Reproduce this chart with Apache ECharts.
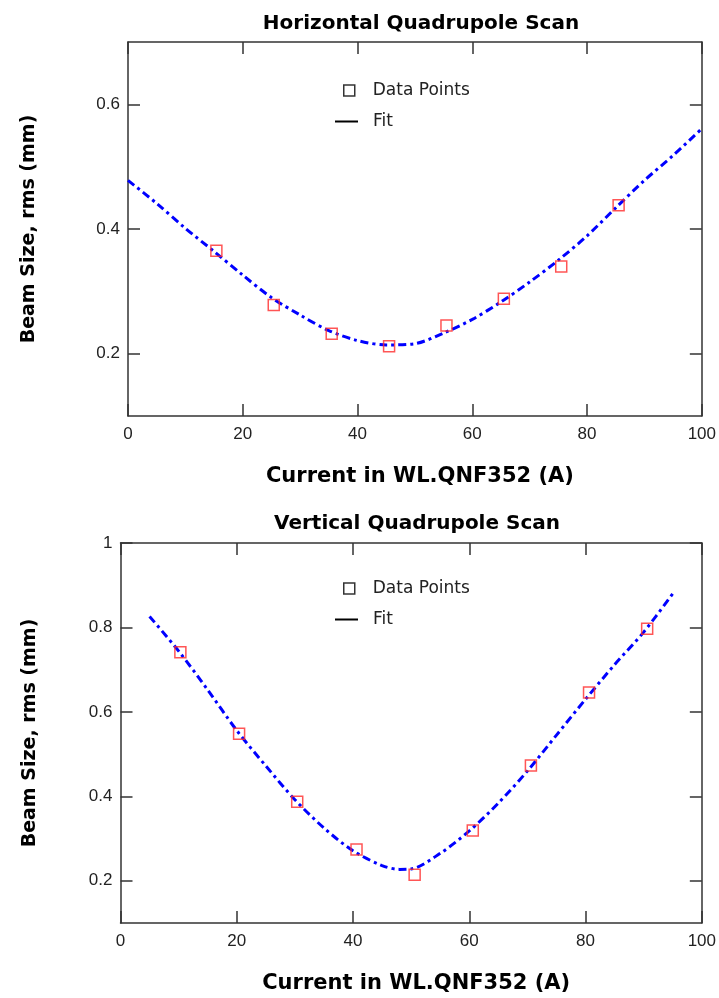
<!DOCTYPE html>
<html><head><meta charset="utf-8">
<script src="https://cdn.jsdelivr.net/npm/echarts@6/dist/echarts.min.js"></script>
<style>html,body{margin:0;padding:0;background:#fff}#c{width:719px;height:998px}</style>
</head><body><div id="c"></div>
<script>
const hTitle = 'Horizontal Quadrupole Scan';
const vTitle = 'Vertical Quadrupole Scan';
const xName = 'Current in WL.QNF352 (A)';
const yName = 'Beam Size, rms (mm)';
const legendNames = ['Data Points', 'Fit'];
const xTicks = [0, 20, 40, 60, 80, 100];
const hYTicks = [0.2, 0.4, 0.6];
const vYTicks = [0.2, 0.4, 0.6, 0.8, 1];

// Horizontal scan
const hDataX = [15.4, 25.4, 35.5, 45.5, 55.5, 65.5, 75.5, 85.5];
const hDataY = [0.365, 0.278, 0.232, 0.212, 0.245, 0.288, 0.340, 0.438];
const hFitX = [0, 5, 10, 15, 20, 25, 30, 35, 40, 45, 50, 55, 60, 65, 70, 75, 80, 85, 90, 95, 100];
const hFitY = [0.478, 0.441, 0.401, 0.364, 0.326, 0.290, 0.262, 0.237, 0.221, 0.214, 0.216, 0.233, 0.255, 0.283, 0.315, 0.350, 0.389, 0.434, 0.478, 0.518, 0.561];

// Vertical scan
const vDataX = [10.3, 20.4, 30.4, 40.6, 50.6, 60.6, 70.6, 80.6, 90.6];
const vDataY = [0.741, 0.548, 0.387, 0.274, 0.214, 0.319, 0.473, 0.646, 0.797];
const vFitX = [5, 10, 15, 20, 25, 30, 35, 40, 45, 48, 50, 55, 60, 65, 70, 75, 80, 85, 90, 95];
const vFitY = [0.826, 0.744, 0.652, 0.556, 0.472, 0.392, 0.325, 0.271, 0.236, 0.227, 0.228, 0.265, 0.318, 0.384, 0.460, 0.545, 0.630, 0.712, 0.789, 0.880];

const pair = (xs, ys) => xs.map((x, i) => [x, ys[i]]);
const titleFont = "'DejaVu Sans', sans-serif";
const tickFont = "'Liberation Sans', Arial, sans-serif";
const legendFont = "'DejaVu Sans', sans-serif";
const axisCol = '#333';

function xAx(grid, pos) {
  const bottom = pos === 'bottom';
  return {
    type: 'value', gridIndex: grid, position: pos, min: 0, max: 100, interval: 20,
    name: bottom ? xName : '', nameLocation: 'middle', nameGap: 50,
    nameTextStyle: {fontFamily: titleFont, fontWeight: 'bold', fontSize: 21, color: '#000', padding: [0, 0, 0, 10]},
    axisLine: {show: true, onZero: false, lineStyle: {color: axisCol, width: 1.5}},
    axisTick: {show: true, inside: true, length: 12, lineStyle: {color: axisCol, width: 1.5}},
    axisLabel: {show: bottom, margin: 10, fontFamily: tickFont, fontSize: 17, color: '#222'},
    splitLine: {show: false}
  };
}
function yAx(grid, pos, min, max, ticks) {
  const left = pos === 'left';
  return {
    type: 'value', gridIndex: grid, position: pos, min: min, max: max, interval: 0.1,
    name: left ? yName : '', nameLocation: 'middle', nameGap: left ? (grid === 0 ? 89 : 81) : 0, nameRotate: 90,
    nameTextStyle: {fontFamily: titleFont, fontWeight: 'bold', fontSize: 19, color: '#000'},
    axisLine: {show: true, onZero: false, lineStyle: {color: axisCol, width: 1.5}},
    axisTick: {show: true, inside: true, length: 12, customValues: ticks, lineStyle: {color: axisCol, width: 1.5}},
    axisLabel: {show: left, margin: 8, customValues: ticks, fontFamily: tickFont, fontSize: 17, color: '#222'},
    splitLine: {show: false}
  };
}
const fitStyle = {color: '#0000ff', width: 3, type: [8, 4, 3, 4], cap: 'butt'};
const ptStyle = {color: 'rgba(255,255,255,0)', borderColor: '#ff2a2a', borderWidth: 1.5};

function legends(top1, top2) {
  return [
    {data: [legendNames[0]], left: 338, top: top1, orient: 'vertical', selectedMode: false,
     icon: 'rect', itemWidth: 11, itemHeight: 11,
     itemStyle: {color: '#fff', borderColor: '#000', borderWidth: 1.5},
     textStyle: {fontFamily: legendFont, fontSize: 17, color: '#222', padding: [0, 0, 0, 13]}},
    {data: [legendNames[1]], left: 330, top: top2, orient: 'vertical', selectedMode: false,
     icon: 'rect', itemWidth: 23, itemHeight: 2,
     itemStyle: {color: '#000', borderWidth: 0},
     textStyle: {fontFamily: legendFont, fontSize: 17, color: '#222', padding: [0, 0, 0, 10]}}
  ];
}

const option = {
  animation: false,
  backgroundColor: '#fff',
  title: [
    {text: hTitle, left: 416, top: 9, textAlign: 'center', textStyle: {fontFamily: titleFont, fontWeight: 'bold', fontSize: 20, color: '#000'}},
    {text: vTitle, left: 412, top: 509, textAlign: 'center', textStyle: {fontFamily: titleFont, fontWeight: 'bold', fontSize: 20, color: '#000'}}
  ],
  legend: [...legends(77, 108), ...legends(575, 606)],
  grid: [
    {left: 128, right: 14, top: 42, height: 374},
    {left: 120.5, right: 14, top: 543, height: 380}
  ],
  xAxis: [xAx(0, 'bottom'), xAx(0, 'top'), xAx(1, 'bottom'), xAx(1, 'top')],
  yAxis: [yAx(0, 'left', 0.1, 0.7, hYTicks), yAx(0, 'right', 0.1, 0.7, hYTicks),
          yAx(1, 'left', 0.1, 1.0, vYTicks), yAx(1, 'right', 0.1, 1.0, vYTicks)],
  series: [
    {name: legendNames[1], type: 'line', xAxisIndex: 0, yAxisIndex: 0, data: pair(hFitX, hFitY), showSymbol: false, symbol: 'none', smooth: 0.3, lineStyle: fitStyle, itemStyle: {color: '#0000ff'}, emphasis: {disabled: true}, z: 2},
    {name: legendNames[0], type: 'scatter', xAxisIndex: 0, yAxisIndex: 0, data: pair(hDataX, hDataY), symbol: 'rect', symbolSize: 11, itemStyle: ptStyle, emphasis: {disabled: true}, z: 3},
    {name: legendNames[1], type: 'line', xAxisIndex: 2, yAxisIndex: 2, data: pair(vFitX, vFitY), showSymbol: false, symbol: 'none', smooth: 0.3, lineStyle: fitStyle, itemStyle: {color: '#0000ff'}, emphasis: {disabled: true}, z: 2},
    {name: legendNames[0], type: 'scatter', xAxisIndex: 2, yAxisIndex: 2, data: pair(vDataX, vDataY), symbol: 'rect', symbolSize: 11, itemStyle: ptStyle, emphasis: {disabled: true}, z: 3}
  ]
};
const chart = echarts.init(document.getElementById('c'), null, {renderer: 'canvas'});
chart.setOption(option);
</script></body></html>
